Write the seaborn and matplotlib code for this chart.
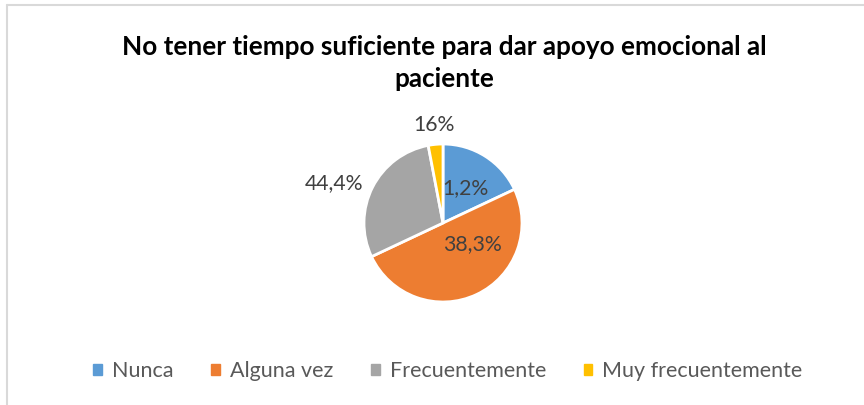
import matplotlib.pyplot as plt
import matplotlib.patches as mpatches
import seaborn as sns
import numpy as np

# data (slice sizes) and the printed label texts
categorias = ['Nunca', 'Alguna vez', 'Frecuentemente', 'Muy frecuentemente']
valores = [18, 50, 29, 3]
etiquetas = ['1,2%', '38,3%', '44,4%', '16%']
colores = ['#5B9BD5', '#ED7D31', '#A5A5A5', '#FFC000']

sns.set_theme(style="white")
plt.rcParams['font.family'] = ['Lato', 'DejaVu Sans']

fig = plt.figure(figsize=(8.64, 4.05), dpi=100)
W, H = 864, 405

# light grey chart border (only top / left visible)
fig.add_artist(plt.Line2D([7 / W, 7 / W], [0, 1 - 5 / H], color='#d9d9d9', lw=1.5))
fig.add_artist(plt.Line2D([7 / W, 1], [1 - 5 / H, 1 - 5 / H], color='#d9d9d9', lw=1.5))

# pie axes, center (443, 223) px, radius 79 px
cx, cy, r = 443, 223, 79
ax = fig.add_axes([(cx - r) / W, (H - cy - r) / H, 2 * r / W, 2 * r / H])
pal = sns.color_palette(colores)
wedges, _ = ax.pie(valores, colors=pal, startangle=90, counterclock=False,
                   radius=1, wedgeprops=dict(edgecolor='white', linewidth=2))
ax.set_xlim(-1, 1)
ax.set_ylim(-1, 1)
ax.axis('off')

# label placement (Excel "best fit")
dist = [0.52, 0.46, 1.47, 1.25]
shift = [0, 29, 7, 0]
for w, txt, d, s in zip(wedges, etiquetas, dist, shift):
    ang = np.deg2rad((w.theta1 + w.theta2) / 2 + s)
    ax.text(d * np.cos(ang), d * np.sin(ang), txt, ha='center', va='center',
            fontsize=15.3, color='#404040')

fig.text(444 / W, 1 - 47 / H, 'No tener tiempo suficiente para dar apoyo emocional al',
         ha='center', va='center', fontsize=18.8, fontweight='bold', color='#000000')
fig.text(444 / W, 1 - 79 / H, 'paciente',
         ha='center', va='center', fontsize=18.8, fontweight='bold', color='#000000')

handles = [mpatches.Patch(color=c, label=l) for c, l in zip(pal, categorias)]
leg = fig.legend(handles=handles, loc='center', bbox_to_anchor=(448 / W, 1 - 371 / H),
                 ncol=4, frameon=False, fontsize=15.5, handlelength=0.4, handleheight=0.4,
                 handletextpad=0.47, columnspacing=1.75)
for t in leg.get_texts():
    t.set_color('#595959')

fig.savefig('out.png', dpi=100)
